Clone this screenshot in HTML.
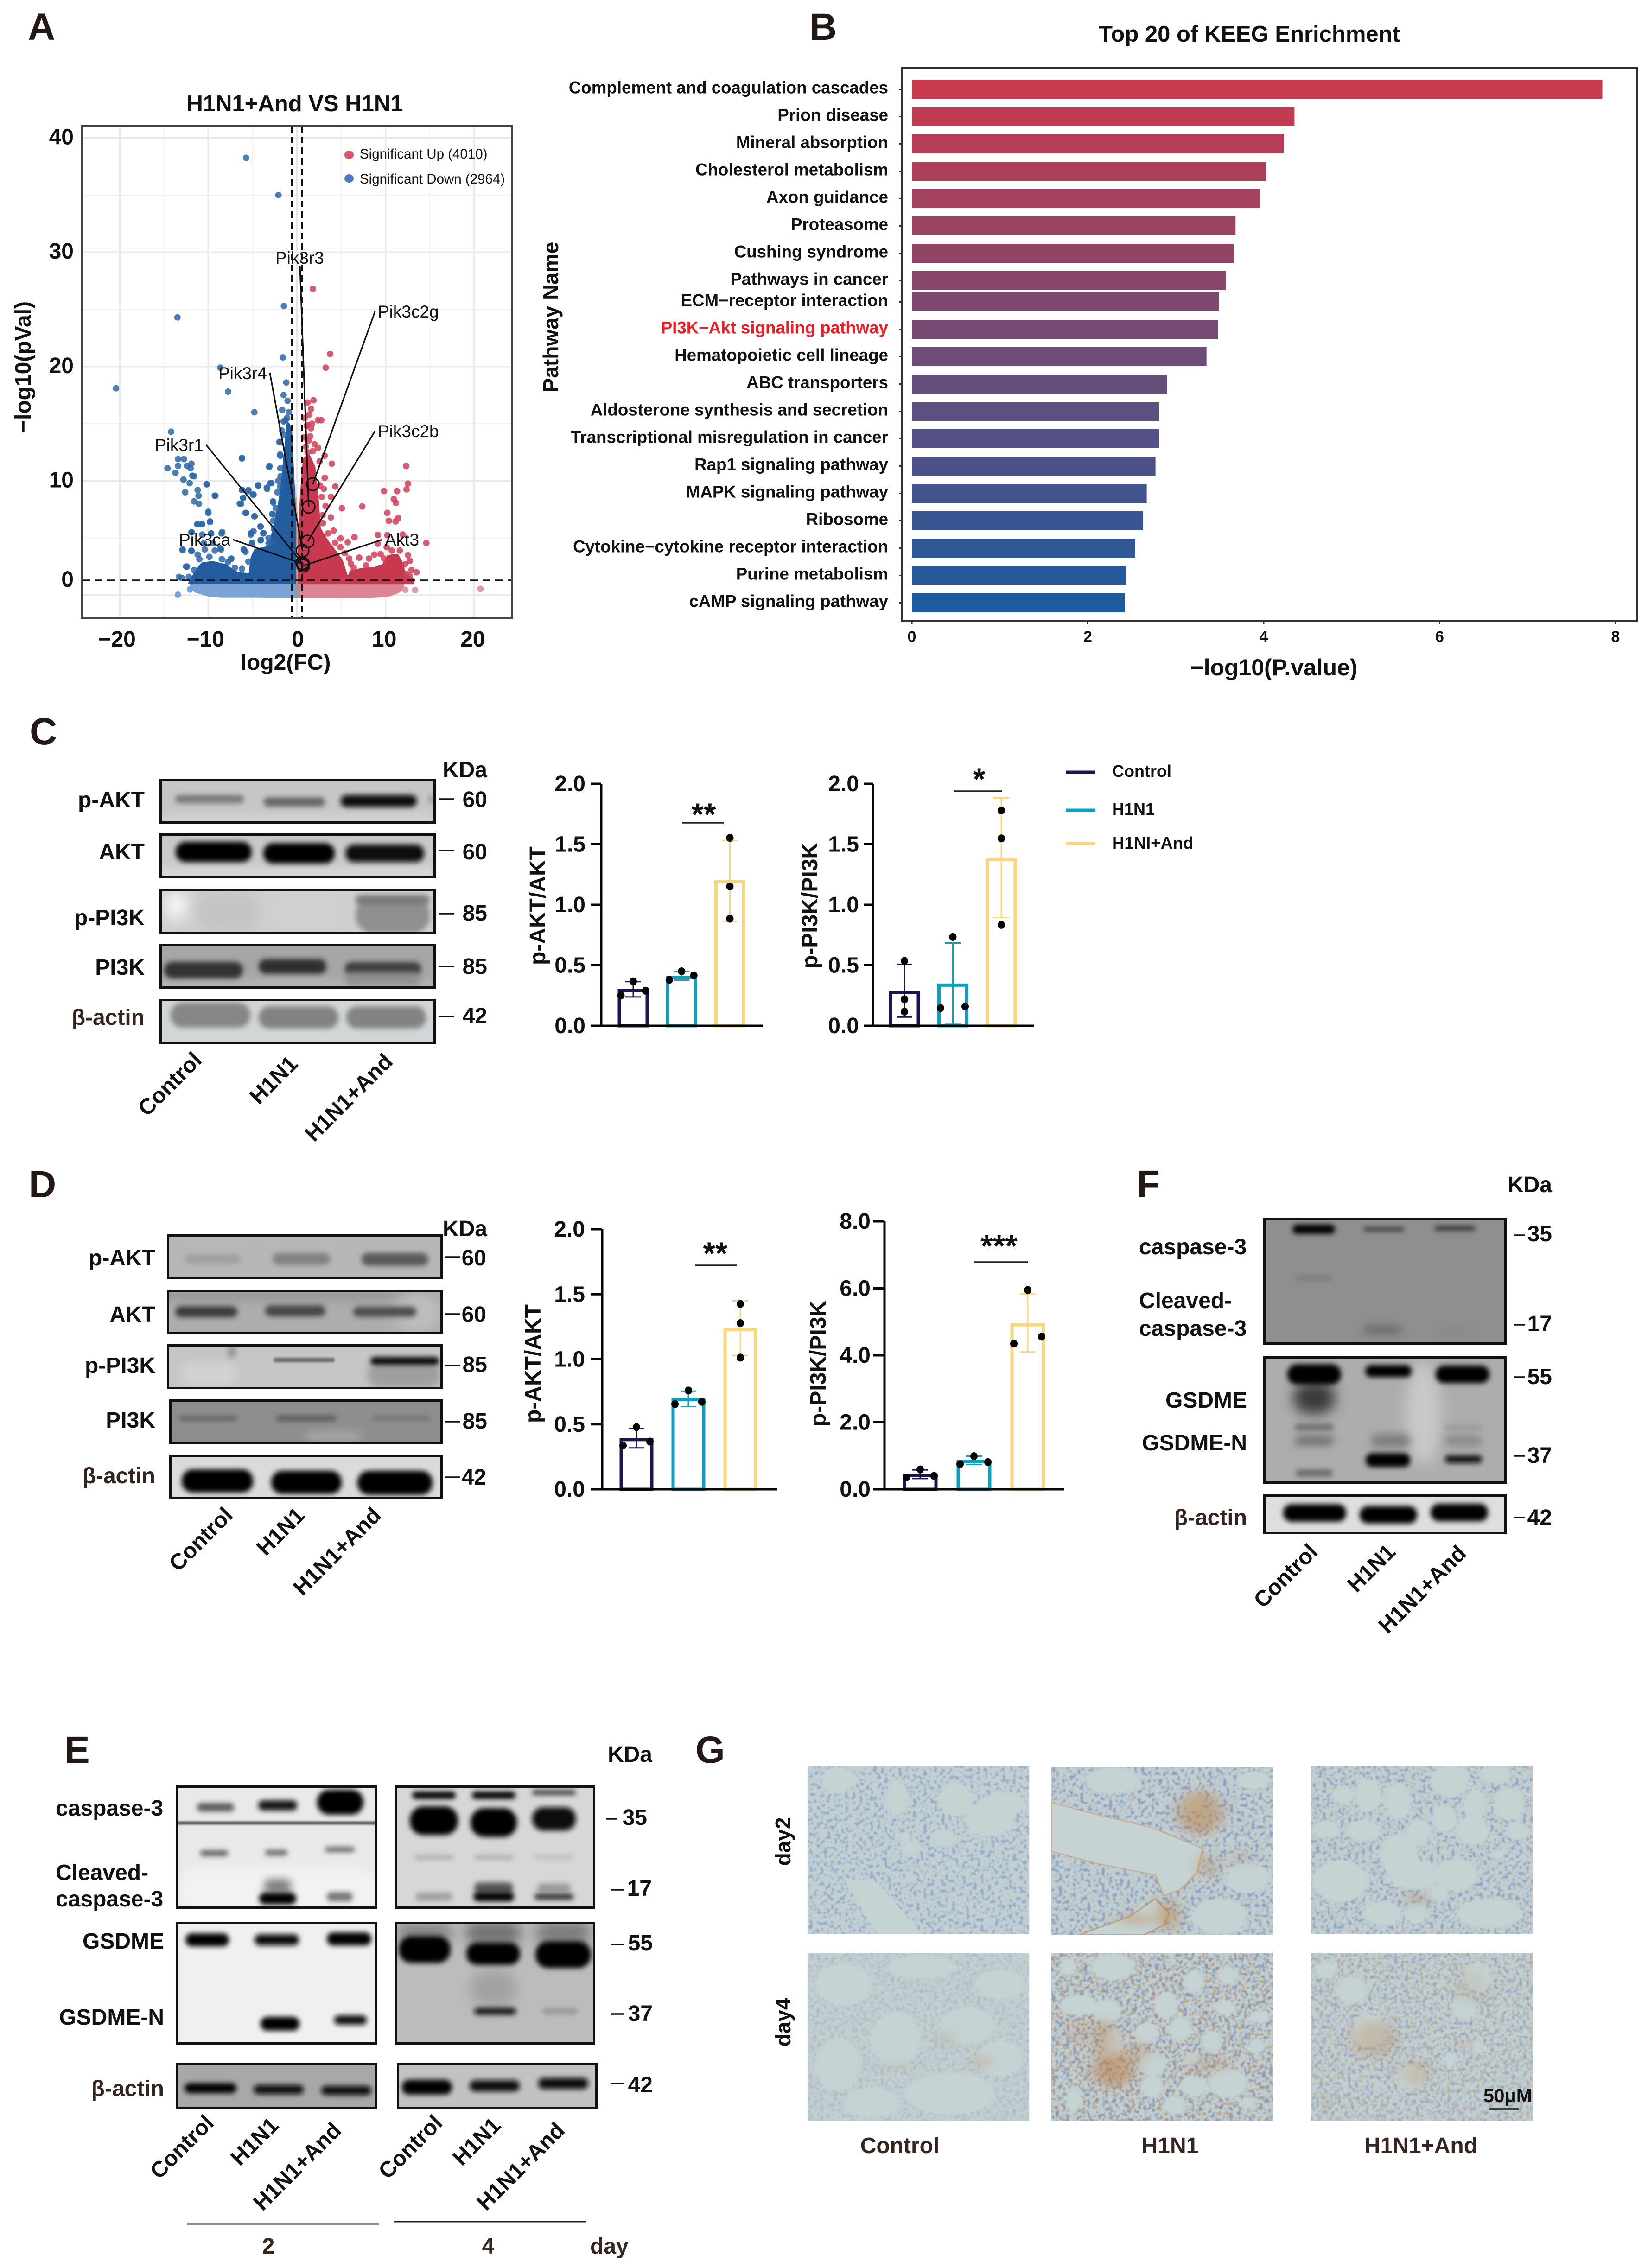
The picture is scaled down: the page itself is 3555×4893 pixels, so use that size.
<!DOCTYPE html>
<html lang="en">
<head>
<meta charset="utf-8">
<title>Multi-panel figure: volcano plot, KEGG enrichment, western blots, bar charts and IHC</title>
<style>
html,body{margin:0;padding:0;background:#fff;}
svg{display:block;}
text{font-family:"Liberation Sans",Arial,sans-serif;fill:#111;}
.b{font-weight:bold;}
.L{font-weight:bold;font-size:82px;fill:#231815;}
.p{font-weight:bold;font-size:48px;}
.a{fill:#35251f;}
.e{text-anchor:end;}
.m{text-anchor:middle;}
</style>
</head>
<body>
<svg id="figure" width="3555" height="4893" viewBox="0 0 3555 4893">
<defs>
<filter id="b2" x="-30%" y="-100%" width="160%" height="300%"><feGaussianBlur stdDeviation="2"/></filter>
<filter id="b3" x="-30%" y="-30%" width="160%" height="160%"><feGaussianBlur stdDeviation="3.5"/></filter>
<filter id="b4" x="-30%" y="-400%" width="160%" height="900%"><feGaussianBlur stdDeviation="5.5"/></filter>
<filter id="b8" x="-40%" y="-300%" width="180%" height="700%"><feGaussianBlur stdDeviation="9"/></filter>
<filter id="b14" x="-80%" y="-200%" width="260%" height="500%"><feGaussianBlur stdDeviation="14"/></filter>
<filter id="nuclei" x="0" y="0" width="100%" height="100%" color-interpolation-filters="sRGB">
<feTurbulence type="fractalNoise" baseFrequency="0.13" numOctaves="2" seed="4" result="n"/>
<feColorMatrix in="n" type="matrix" values="0 0 0 0 .40  0 0 0 0 .52  0 0 0 0 .77  8 0 0 0 -4.3"/>
<feGaussianBlur stdDeviation="1"/>
<feComposite in2="SourceAlpha" operator="in"/>
</filter>
<filter id="brown" x="0" y="0" width="100%" height="100%" color-interpolation-filters="sRGB">
<feTurbulence type="fractalNoise" baseFrequency="0.14" numOctaves="2" seed="9" result="n"/>
<feColorMatrix in="n" type="matrix" values="0 0 0 0 .72  0 0 0 0 .46  0 0 0 0 .22  8 0 0 0 -4.3"/>
<feGaussianBlur stdDeviation="1"/>
<feComposite in2="SourceAlpha" operator="in"/>
</filter>
</defs>

<!-- Panel letters -->
<text class="L" x="60" y="86">A</text>
<text class="L" x="1746" y="86">B</text>
<text class="L" x="64" y="1606">C</text>
<text class="L" x="62" y="2583">D</text>
<text class="L" x="139" y="3803">E</text>
<text class="L" x="2452" y="2582">F</text>
<text class="L" x="1500" y="3803">G</text>

<!-- Panel A static text -->
<g id="volcano"></g>
<text class="b m" x="636" y="240" font-size="49" fill="#222">H1N1+And VS H1N1</text>
<text class="b m" x="616" y="1445" font-size="48">log2(FC)</text>
<text class="b m" transform="translate(66,792) rotate(-90)" font-size="48">−log10(pVal)</text>
<ellipse cx="753" cy="334" rx="10" ry="9" fill="#d9566c"/>
<ellipse cx="753" cy="385" rx="10" ry="9" fill="#4a7db8"/>
<text x="776" y="342" font-size="29.5" fill="#222">Significant Up (4010)</text>
<text x="776" y="396" font-size="29.5" fill="#222">Significant Down (2964)</text>

<!-- Panel B static text -->
<g id="keggChart"></g>
<text class="b m" x="2695" y="90" font-size="49" fill="#222">Top 20 of KEEG Enrichment</text>
<text class="b m" x="2748" y="1457" font-size="50" textLength="361" lengthAdjust="spacingAndGlyphs">−log10(P.value)</text>
<text class="b m" transform="translate(1204,684) rotate(-90)" font-size="46">Pathway Name</text>

<!-- Blots -->
<g id="blots"></g>

<!-- Panel C text -->
<g>
<text class="p e" x="312" y="1742">p-AKT</text>
<text class="p e" x="312" y="1854">AKT</text>
<text class="p e" x="312" y="1996">p-PI3K</text>
<text class="p e" x="312" y="2103">PI3K</text>
<text class="p e a" x="312" y="2211">β-actin</text>
<text class="p e" x="1051" y="1677" font-size="46">KDa</text>
<text class="p e" x="1051" y="1741">60</text>
<text class="p e" x="1051" y="1854">60</text>
<text class="p e" x="1051" y="1986">85</text>
<text class="p e" x="1051" y="2101">85</text>
<text class="p e" x="1051" y="2208">42</text>
<path d="M948 1724H979M948 1835H979M948 1971H979M948 2085H979M948 2193H979" stroke="#111" stroke-width="3.5" fill="none"/>
<text class="p e" transform="translate(438,2290) rotate(-45)">Control</text>
<text class="p e" transform="translate(645,2298) rotate(-45)">H1N1</text>
<text class="p e" transform="translate(850,2293) rotate(-45)">H1N1+And</text>
</g>

<!-- Panel D text -->
<g>
<text class="p e" x="335" y="2730">p-AKT</text>
<text class="p e" x="335" y="2852">AKT</text>
<text class="p e" x="335" y="2962">p-PI3K</text>
<text class="p e" x="335" y="3080">PI3K</text>
<text class="p e a" x="335" y="3200">β-actin</text>
<text class="p e" x="1051" y="2667" font-size="46">KDa</text>
<text class="p e" x="1049" y="2730">60</text>
<text class="p e" x="1049" y="2852">60</text>
<text class="p e" x="1051" y="2960">85</text>
<text class="p e" x="1051" y="3082">85</text>
<text class="p e" x="1049" y="3203">42</text>
<path d="M961 2712H993M961 2835H993M961 2946H993M961 3067H993M961 3187H993" stroke="#111" stroke-width="3.5" fill="none"/>
<text class="p e" transform="translate(505,3272) rotate(-45)">Control</text>
<text class="p e" transform="translate(660,3272) rotate(-45)">H1N1</text>
<text class="p e" transform="translate(825,3272) rotate(-45)">H1N1+And</text>
</g>

<!-- Panel F text -->
<g>
<text class="p" x="2457" y="2706">caspase-3</text>
<text class="p" x="2457" y="2822">Cleaved-</text>
<text class="p" x="2457" y="2882">caspase-3</text>
<text class="p e" x="2690" y="3037">GSDME</text>
<text class="p e" x="2690" y="3129">GSDME-N</text>
<text class="p e a" x="2690" y="3290">β-actin</text>
<text class="p e" x="3348" y="2572" font-size="46">KDa</text>
<text class="p e" x="3348" y="2678">35</text>
<text class="p e" x="3348" y="2872">17</text>
<text class="p e" x="3348" y="2986">55</text>
<text class="p e" x="3348" y="3156">37</text>
<text class="p e" x="3348" y="3290">42</text>
<path d="M3265 2665H3290M3265 2858H3290M3265 2971H3290M3265 3141H3290M3265 3274H3290" stroke="#111" stroke-width="3.5" fill="none"/>
<text class="p e" transform="translate(2845,3351) rotate(-45)">Control</text>
<text class="p e" transform="translate(3013,3351) rotate(-45)">H1N1</text>
<text class="p e" transform="translate(3166,3354) rotate(-45)">H1N1+And</text>
</g>

<!-- Panel E text -->
<g>
<text class="p" x="120" y="3917">caspase-3</text>
<text class="p" x="120" y="4056">Cleaved-</text>
<text class="p" x="120" y="4113">caspase-3</text>
<text class="p e" x="354" y="4204">GSDME</text>
<text class="p e" x="354" y="4368">GSDME-N</text>
<text class="p e a" x="354" y="4522">β-actin</text>
<text class="p e" x="1407" y="3801" font-size="46">KDa</text>
<text class="p e" x="1396" y="3937">35</text>
<text class="p e" x="1406" y="4090">17</text>
<text class="p e" x="1408" y="4208">55</text>
<text class="p e" x="1408" y="4360">37</text>
<text class="p e" x="1408" y="4514">42</text>
<path d="M1307 3924H1331M1318 4077H1345M1318 4195H1345M1318 4345H1345M1318 4495H1345" stroke="#111" stroke-width="3.5" fill="none"/>
<text class="p e" transform="translate(464,4583) rotate(-45)">Control</text>
<text class="p e" transform="translate(604,4588) rotate(-45)">H1N1</text>
<text class="p e" transform="translate(739,4599) rotate(-45)">H1N1+And</text>
<text class="p e" transform="translate(957,4583) rotate(-45)">Control</text>
<text class="p e" transform="translate(1083,4588) rotate(-45)">H1N1</text>
<text class="p e" transform="translate(1221,4599) rotate(-45)">H1N1+And</text>
<path d="M403 4798H818M849 4793H1264" stroke="#222" stroke-width="3" fill="none"/>
<text class="p m a" x="579" y="4862">2</text>
<text class="p m a" x="1053" y="4862">4</text>
<text class="p a" x="1273" y="4862">day</text>
</g>

<!-- Bar charts -->
<g id="barCharts"></g>
<g>
<text class="p m" transform="translate(1176,1954) rotate(-90)">p-AKT/AKT</text>
<text class="p m" transform="translate(1763,1954) rotate(-90)">p-PI3K/PI3K</text>
<text class="p m" transform="translate(1166,2942) rotate(-90)">p-AKT/AKT</text>
<text class="p m" transform="translate(1781,2942) rotate(-90)">p-PI3K/PI3K</text>
<path d="M2299 1666H2363" stroke="#1e1450" stroke-width="7"/>
<path d="M2299 1748H2363" stroke="#0d9fbf" stroke-width="7"/>
<path d="M2299 1820H2363" stroke="#fdd67a" stroke-width="7"/>
<text class="b" x="2399" y="1676" font-size="36">Control</text>
<text class="b" x="2399" y="1758" font-size="36">H1N1</text>
<text class="b" x="2399" y="1831" font-size="36.5">H1NI+And</text>
</g>

<!-- IHC -->
<g id="ihc"></g>
<g>
<text class="b m" transform="translate(1705,3973) rotate(-90)" font-size="46">day2</text>
<text class="b m" transform="translate(1705,4363) rotate(-90)" font-size="46">day4</text>
<text class="p m a" x="1941" y="4645">Control</text>
<text class="p m a" x="2524" y="4645" font-size="46">H1N1</text>
<text class="p m a" x="3065" y="4645">H1N1+And</text>
<text class="b" x="3200" y="4535" font-size="41">50μM</text>
<path d="M3213 4550H3276" stroke="#111" stroke-width="3.5"/>
</g>
</svg>

<script>
/* ------- Volcano data (log2FC, -log10 p) ------- */
const volcanoXTicks = [-20, -10, 0, 10, 20];
const volcanoYTicks = [0, 10, 20, 30, 40];
const volcanoXMinor = [-15, -5, 5, 15];
const volcanoYMinor = [5, 15, 25, 35];
const fcCutoffs = [-0.6, 0.55];
const pCutoff = 1.3;
const denseDownX = [-12.1,-11.5,-10.7,-9.5,-8.1,-6.7,-5.3,-5.07,-4.67,-3.07,-2.27,-1.87,-1.67,-1.27,-1,-0.7,-0.5,-0.3,-0.22,-0.22];
const denseDownY = [1.05,1.9,2.74,2.87,2.6,1.9,1.8,3.28,3.95,4.2,6.9,8.5,9.75,12.9,15,14.5,11,8,6,1.05];
const denseUpX = [0.23,0.23,0.33,0.53,0.83,1.33,1.93,2.33,2.53,3.03,3.73,4.33,5.03,5.53,5.73,6.13,7.33,8.73,9.73,10.3,11.3,11.9,12.1,13.1,13.1];
const denseUpY = [1.05,5,6.4,9.1,11.9,12.2,11.2,8.14,5.85,5.17,4.36,3.8,3,1.8,1.4,2.06,2.27,2.33,2.6,3.4,3.5,2.7,1.8,1.4,1.05];
const lightDownX = [-12.1,-11.5,-10.07,-8.67,-4.67,-0.22];
const lightDownY = [0.58,0.24,-0.1,-0.23,-0.23,-0.27];
const lightUpX = [0.23,8,9.5,10.5,11.5,12,12.1];
const lightUpY = [-0.27,-0.27,-0.2,-0.1,0.2,0.5,0.9];
const nonSigX = [-0.22,0.23,0.23,0.05,-0.15,-0.22];
const nonSigY = [1.05,1.05,5,7.5,9.8,6];
const downPoints = [[-5.73,38.26],[-2.08,35],[-1.47,25.3],[-13.48,24.3],[-1.58,20.8],[-20.4,18.1],[-8.64,19.9],[-7.76,17.8],[-4.8,16],[-1.2,18.6],[-1.5,17.5],[-1.05,17],[-1.66,16.2],[-1.3,15.3],[-14.2,14.3],[-13.4,11.9],[-12.75,11.9],[-14.6,11.1],[-13.7,10.7],[-13.4,11.3],[-12.4,11.3],[-11.9,11.5],[-12,11.1],[-11.8,10.45],[-12.8,10.1],[-12.1,9.8],[-11.6,10.4],[-10.2,9.7],[-11.2,9.2],[-12.6,9],[-11.1,8.7],[-9.2,8.7],[-11.6,8.2],[-11.05,8],[-10,7.3],[-9.8,6.4],[-11.25,6.2],[-10.7,6.2],[-11.9,5.5],[-10.7,5.3],[-9.7,5.4],[-8.5,5.4],[-12.9,4],[-11.9,3.9],[-10.5,4.55],[-9.5,4.55],[-7.4,3.2],[-8.56,4],[-12.5,2.5],[-6.2,12],[-3.1,11.3],[-4.35,9.6],[-5.5,9.1],[-6.2,9.2],[-4.9,8.8],[-6.07,8.5],[-6.45,8],[-5.8,7.2],[-4.8,6.9],[-4.1,6],[-3.8,5.4],[-4.9,5.6],[-5.2,5.3],[-4.1,4.8],[-5.05,4.55],[-6,4],[-5.8,3.8],[-3.4,9.4],[-3,9.8],[-2.7,8.2],[-2.8,7.1],[-3.2,4.55],[-1.9,12.3],[-1.97,13.4],[-1.85,10.4],[-12.9,3.95],[-11.9,3.85],[-12.4,2.5],[-11.2,3.55],[-11,3.15],[-10.4,4],[-9.67,5.4],[-8.43,5.5],[-9.27,3.9],[-8.67,4.1],[-7.47,3.15],[-8.47,3.15],[-9.87,3.35],[-5.97,3.95],[-5.07,4.56],[-4.07,4.83],[-3.77,5.44],[-4.1,6],[-5.17,5.44],[-2.97,4.6],[-5.47,2.94],[-4.77,6.9],[-5.73,7.2],[-2.67,8.1],[-2.7,7.06],[-2.67,6.5],[-6.3,8],[-6.07,8.5],[-4.97,8.8],[-5.47,9.2],[-6.2,9.2],[-4.4,9.6],[-3.37,9.3],[-2.87,9.8],[-3.13,11.2],[-6.2,11.96],[-9.27,8.7],[-10.17,9.7],[-9.99,7.2],[-9.8,6.45],[-11.2,6.2],[-10.7,6.2],[-11.87,5.5],[-1.87,12.2],[-1.87,11.1],[-1.4,14],[-1.1,15.5],[-0.9,16],[-1.5,15.2],[-1.7,14.4],[-1.9,13.4],[-12.2,1.6],[-13,1.5],[-13.3,1.6],[-11.6,2.2],[-7.8,2.9],[-7,2.4],[-6.2,2.3],[-3.2,5],[-2.6,5.8],[-2.4,7.6],[-2.2,9],[-2.1,10],[-1.9,9.5]];
const upPoints = [[1.8,26.8],[3.75,21.1],[3.25,19.9],[1.87,17.05],[1.2,16.85],[1.6,16.3],[2.37,15.3],[2.75,15.3],[1.2,14.9],[1.6,14.6],[1.5,13.9],[2.37,12.9],[3.13,12.2],[2.56,11.7],[3.93,11.5],[12.33,11.3],[12.53,9.76],[12.37,9.25],[9.83,9.1],[11.3,9.1],[10.93,8.4],[11.17,8.07],[7.37,7.76],[5.07,7.6],[10.2,7.2],[11.43,6.75],[10.37,6.5],[11.13,6.45],[3.13,10.26],[4.33,9.5],[3.03,9.3],[3.83,8.6],[3.23,7.8],[3.83,6.8],[4.13,5.64],[2.93,6.3],[4.93,4.97],[5.73,4.63],[6.49,5.07],[9.13,5.28],[10.2,5.25],[11.93,5.3],[14.6,4.56],[5.43,3.68],[7.03,3.28],[6.09,2.74],[8.13,3.2],[8.73,3.55],[9.43,3.6],[9.13,4.5],[10.13,4.2],[12.53,3.5],[12.73,3],[13.49,2],[12.93,2.2],[12.33,1.86],[5.43,1.4],[1,13],[1.3,13.5],[1.1,14.8],[0.9,15.5],[1.4,15.8],[1.7,15],[2,13.2],[1.8,12.6],[1.2,12.5],[0.8,13.8],[2.8,8.6],[2.6,9.6],[2.9,7],[3.5,5.4],[4.3,4.6],[4.9,4.2],[5.9,3.2],[6.4,2.4],[7.8,2.6],[9.8,3.2],[10.7,3.9],[11.6,3.9],[12.2,2.7],[12.7,1.7]];
const lightPoints = [[-13.43,0.04,'d'],[-12.07,0.5,'d'],[20.7,0.55,'u'],[13.33,0.44,'u'],[12.23,0.47,'u']];
const geneNames = ['Pik3c2g','Pik3r3','Pik3c2b','Pik3r4','Pik3r1','Pik3ca','Akt3'];
const geneFC = [1.79,1.33,1.21,0.64,0.6,0.72,0.72];
const geneP = [9.71,7.73,4.7,3.89,2.8,2.72,2.57];

/* ------- KEGG data ------- */
const pathways = ['Complement and coagulation cascades','Prion disease','Mineral absorption','Cholesterol metabolism','Axon guidance','Proteasome','Cushing syndrome','Pathways in cancer','ECM−receptor interaction','PI3K−Akt signaling pathway','Hematopoietic cell lineage','ABC transporters','Aldosterone synthesis and secretion','Transcriptional misregulation in cancer','Rap1 signaling pathway','MAPK signaling pathway','Ribosome','Cytokine−cytokine receptor interaction','Purine metabolism','cAMP signaling pathway'];
const pathwayValues = [7.85,4.35,4.23,4.03,3.96,3.68,3.66,3.57,3.49,3.48,3.35,2.9,2.81,2.81,2.77,2.67,2.63,2.54,2.44,2.42];
const keggTicks = [0,2,4,6,8];
const highlightedPathway = 'PI3K−Akt signaling pathway';

/* ------- Bar chart data ------- */
const groupNames = ['Control','H1N1','H1N1+And'];
const ticks2 = [0,0.5,1,1.5,2];
const tickLabels2 = ['0.0','0.5','1.0','1.5','2.0'];
const ticks8 = [0,2,4,6,8];
const tickLabels8 = ['0.0','2.0','4.0','6.0','8.0'];
const cAktMean = [0.293,0.40,1.19];
const cAktUpper = [0.365,0.45,1.53];
const cAktLower = [0.238,0.377,0.86];
const cAktDots = [[0.25,0.367,0.29],[0.38,0.45,0.416],[1.553,1.152,0.885]];
const cAktSlots = [[-1,0,1],[-1,0,1],[0,0,0]];
const cPi3kMean = [0.277,0.336,1.373];
const cPi3kUpper = [0.508,0.684,1.883];
const cPi3kLower = [0.072,0.012,0.895];
const cPi3kDots = [[0.537,0.219,0.117],[0.734,0.146,0.16],[1.78,1.549,0.834]];
const cPi3kSlots = [[0,0,0],[0,-1,1],[0,0,0]];
const dAktMean = [0.382,0.69,1.227];
const dAktUpper = [0.467,0.755,1.449];
const dAktLower = [0.318,0.636,1.03];
const dAktDots = [[0.478,0.336,0.367],[0.76,0.655,0.673],[1.425,1.278,1.013]];
const dAktSlots = [[0,-1,1],[0,-1,1],[0,0,0]];
const dPi3kMean = [0.42,0.826,4.91];
const dPi3kUpper = [0.58,0.99,5.83];
const dPi3kLower = [0.32,0.74,4.1];
const dPi3kDots = [[0.593,0.353,0.4],[0.99,0.75,0.81],[5.95,4.35,4.555]];
const dPi3kSlots = [[0,-1,1],[0,-1,1],[0,-1,1]];

const root = document.getElementById('figure');
const NS = root.namespaceURI;
function mk(tag, attrs, parent) {
  const n = document.createElementNS(NS, tag);
  for (const k in attrs) n.setAttribute(k, attrs[k]);
  parent.appendChild(n);
  return n;
}

/* ========== Panel A: volcano ========== */
(function () {
  const g = document.getElementById('volcano');
  const sx = v => 640.5 + 19.12 * v;
  const sy = v => 1284 - 24.66 * v;
  const left = 177, right = 1104, top = 272, bottom = 1333;
  let el;
  el = mk('rect', {x: left, y: top, width: right - left, height: bottom - top, fill: '#fff'}, g);
  
  
  volcanoXMinor.forEach(v => {
    const l = mk('line', {x1: sx(v), x2: sx(v), y1: top, y2: bottom, stroke: '#f0f0f0', 'stroke-width': 2}, g);
    
    
  });
  volcanoYMinor.forEach(v => {
    const l = mk('line', {x1: left, x2: right, y1: sy(v), y2: sy(v), stroke: '#f0f0f0', 'stroke-width': 2}, g);
    
    
  });
  volcanoXTicks.forEach(v => {
    const l = mk('line', {x1: sx(v), x2: sx(v), y1: top, y2: bottom, stroke: '#e8e8e8', 'stroke-width': 3.5}, g);
    
    
    const t = mk('text', {x: sx(v) - (v < 0 ? 6 : v > 0 ? 3 : -2), y: 1395, 'font-size': 48, 'font-weight': 'bold', 'text-anchor': 'middle'}, g);
    t.textContent = String(v).replace('-', '−');
    
    
  });
  volcanoYTicks.forEach(v => {
    const l = mk('line', {x1: left, x2: right, y1: sy(v), y2: sy(v), stroke: '#e8e8e8', 'stroke-width': 3.5}, g);
    
    
    const labelAt = v === 0 ? pCutoff : v;
    const t = mk('text', {x: 159, y: sy(labelAt) + 14, 'font-size': 48, 'font-weight': 'bold', 'text-anchor': 'end'}, g);
    t.textContent = String(v);
    
    
  });
  const poly = (xs, ys) => xs.map((x, i) => sx(x) + ',' + sy(ys[i])).join(' ');
  const lightBase = 1.05;
  el = mk('polygon', {points: sx(lightDownX[0]) + ',' + sy(lightBase) + ' ' + poly(lightDownX, lightDownY) + ' ' + sx(-0.22) + ',' + sy(lightBase), fill: '#7ba3d8'}, g);
  
  
  el = mk('polygon', {points: sx(0.23) + ',' + sy(lightBase) + ' ' + poly(lightUpX, lightUpY) + ' ' + sx(12.1) + ',' + sy(lightBase), fill: '#dc8593'}, g);
  
  
  el = mk('rect', {x: sx(-0.22), y: sy(lightBase), width: sx(0.23) - sx(-0.22), height: sy(-0.27) - sy(lightBase), fill: '#98999b'}, g);
  
  
  el = mk('polygon', {points: poly(nonSigX, nonSigY), fill: '#d9ae78'}, g);
  
  
  el = mk('polygon', {points: poly(denseDownX, denseDownY), fill: '#235c9f', stroke: '#235c9f', 'stroke-width': 6, 'stroke-linejoin': 'round'}, g);
  
  
  el = mk('polygon', {points: poly(denseUpX, denseUpY), fill: '#c8394f', stroke: '#c8394f', 'stroke-width': 6, 'stroke-linejoin': 'round'}, g);
  
  
  downPoints.forEach(p => {
    const c = mk('circle', {cx: sx(p[0]), cy: sy(p[1]), r: 7, fill: '#2e66a8', 'fill-opacity': 0.85}, g);
    
    
  });
  upPoints.forEach(p => {
    const c = mk('circle', {cx: sx(p[0]), cy: sy(p[1]), r: 7, fill: '#cf4058', 'fill-opacity': 0.85}, g);
    
    
  });
  lightPoints.forEach(p => {
    const c = mk('circle', {cx: sx(p[0]), cy: sy(p[1]), r: 7, fill: p[2] === 'd' ? '#7ba3d8' : '#e09aa6'}, g);
    
    
  });
  fcCutoffs.forEach(v => {
    const l = mk('line', {x1: sx(v), x2: sx(v), y1: top, y2: bottom, stroke: '#111', 'stroke-width': 4, 'stroke-dasharray': '14 9'}, g);
    
    
  });
  el = mk('line', {x1: left, x2: right, y1: sy(pCutoff), y2: sy(pCutoff), stroke: '#111', 'stroke-width': 3.5, 'stroke-dasharray': '17 10'}, g);
  
  
  const labelX = {Pik3c2g: 815, Pik3r3: 594, Pik3c2b: 815, Pik3r4: 471, Pik3r1: 334, Pik3ca: 386, Akt3: 830};
  const labelY = {Pik3c2g: 685, Pik3r3: 569, Pik3c2b: 943, Pik3r4: 818, Pik3r1: 973, Pik3ca: 1177, Akt3: 1177};
  const leaderX = {Pik3c2g: 809, Pik3r3: 647, Pik3c2b: 809, Pik3r4: 582, Pik3r1: 444, Pik3ca: 502, Akt3: 825};
  const leaderY = {Pik3c2g: 672, Pik3r3: 574, Pik3c2b: 930, Pik3r4: 804, Pik3r1: 959, Pik3ca: 1164, Akt3: 1164};
  geneNames.forEach((n, i) => {
    const gx = sx(geneFC[i]), gy = sy(geneP[i]);
    const l = mk('line', {x1: leaderX[n], y1: leaderY[n], x2: gx, y2: gy, stroke: '#111', 'stroke-width': 3.2}, g);
    
    
    const c = mk('circle', {cx: gx, cy: gy, r: 13.5, fill: 'none', stroke: '#111', 'stroke-width': 2.8}, g);
    
    
    const t = mk('text', {x: labelX[n], y: labelY[n], 'font-size': 37}, g);
    t.textContent = n;
    
    
  });
  el = mk('rect', {x: left, y: top, width: right - left, height: bottom - top, fill: 'none', stroke: '#444', 'stroke-width': 4}, g);
  
  
})();

/* ========== Panel B: KEGG ========== */
(function () {
  const g = document.getElementById('keggChart');
  const sx = v => 1967 + 189.75 * v;
  const rowTop = i => 172 + i * 59 - (i >= 8 ? 13 : 0);
  const barH = 41;
  const mix = i => {
    const f = i / (pathways.length - 1);
    const a = [200, 58, 78], b = [29, 91, 158];
    return 'rgb(' + a.map((c, k) => Math.round(c + (b[k] - c) * f)).join(',') + ')';
  };
  let el;
  el = mk('rect', {x: 1945, y: 146, width: 1587, height: 1193, fill: '#fff', stroke: '#333', 'stroke-width': 4}, g);
  
  
  pathways.forEach((name, i) => {
    const y = rowTop(i);
    const r = mk('rect', {x: sx(0), y: y, width: sx(pathwayValues[i]) - sx(0), height: barH, fill: mix(i)}, g);
    
    
    const tk = mk('line', {x1: 1939, x2: 1945, y1: y + barH / 2, y2: y + barH / 2, stroke: '#333', 'stroke-width': 3}, g);
    
    
    const t = mk('text', {x: 1916, y: y + barH / 2 + 9, 'font-size': 36.7, 'font-weight': 'bold', 'text-anchor': 'end'}, g);
    t.textContent = name;
    if (name === highlightedPathway) t.style.fill = '#ee1c25';
    
    
  });
  keggTicks.forEach(v => {
    const tk = mk('line', {x1: sx(v), x2: sx(v), y1: 1339, y2: 1347, stroke: '#333', 'stroke-width': 3}, g);
    
    
    const t = mk('text', {x: sx(v), y: 1385, 'font-size': 34, 'font-weight': 'bold', 'text-anchor': 'middle'}, g);
    t.textContent = String(v);
    
    
  });
})();

/* ========== Panels C / D bar charts ========== */
const groupColors = ['#1e1450', '#0d9fbf', '#fdd67a'];
function barChart(name, geo, tickVals, tickText, mean, upper, lower, dots, slots) {
  const g = mk('g', {}, document.getElementById('barCharts'));
  
  
  const sy = v => geo.y0 - (geo.y0 - geo.yTop) * v / geo.max;
  const xc = i => geo.first + i * geo.step;
  groupNames.forEach((gn, i) => {
    const c = groupColors[i];
    const b = mk('rect', {x: xc(i) - geo.half, y: sy(mean[i]), width: geo.half * 2, height: geo.y0 - sy(mean[i]), fill: 'none', stroke: c, 'stroke-width': 7}, g);
    
    
    const e = mk('path', {d: 'M' + xc(i) + ' ' + sy(upper[i]) + 'V' + sy(lower[i]) + 'M' + (xc(i) - 17) + ' ' + sy(upper[i]) + 'h34M' + (xc(i) - 17) + ' ' + sy(lower[i]) + 'h34', fill: 'none', stroke: c, 'stroke-width': 3}, g);
    
    
    dots[i].forEach((v, k) => {
      const d = mk('ellipse', {cx: xc(i) + slots[i][k] * geo.jit, cy: sy(v), rx: 8, ry: 8.5, fill: '#050505'}, g);
      
      
    });
  });
  const ax = mk('path', {d: 'M' + geo.axX + ' ' + geo.yTop + 'V' + geo.y0 + 'M' + geo.tickL + ' ' + geo.y0 + 'H' + geo.xEnd, fill: 'none', stroke: '#050505', 'stroke-width': 5}, g);
  
  
  tickVals.forEach((v, i) => {
    const tk = mk('line', {x1: geo.tickL, x2: geo.axX, y1: sy(v), y2: sy(v), stroke: '#050505', 'stroke-width': 5}, g);
    
    
    const t = mk('text', {x: geo.labelR, y: sy(v) + 16, 'font-size': 48, 'font-weight': 'bold', 'text-anchor': 'end'}, g);
    t.textContent = tickText[i];
    
    
  });
  const sig = mk('line', {x1: geo.sigA, x2: geo.sigB, y1: geo.sigY, y2: geo.sigY, stroke: '#222', 'stroke-width': 3.5}, g);
  
  
  const st = mk('text', {x: geo.starX, y: geo.starY, 'font-size': 68, 'font-weight': 'bold', 'text-anchor': 'middle'}, g);
  st.textContent = geo.stars;
  
  
}
barChart('c-p-akt-chart', {axX:1297,y0:2213,yTop:1691,max:2,first:1366,step:104.25,half:30,jit:26.5,tickL:1275,labelR:1263,xEnd:1646,sigA:1472,sigB:1562,sigY:1775,starX:1518,starY:1780,stars:'**'}, ticks2, tickLabels2, cAktMean, cAktUpper, cAktLower, cAktDots, cAktSlots);
barChart('c-p-pi3k-chart', {axX:1883,y0:2213,yTop:1691,max:2,first:1951,step:104.5,half:30,jit:26.5,tickL:1863,labelR:1853,xEnd:2231,sigA:2059,sigB:2161,sigY:1707,starX:2112,starY:1704,stars:'*'}, ticks2, tickLabels2, cPi3kMean, cPi3kUpper, cPi3kLower, cPi3kDots, cPi3kSlots);
barChart('d-p-akt-chart', {axX:1299,y0:3213,yTop:2652,max:2,first:1373,step:112,half:33,jit:29,tickL:1274,labelR:1262,xEnd:1676,sigA:1500,sigB:1589,sigY:2730,starX:1543,starY:2727,stars:'**'}, ticks2, tickLabels2, dAktMean, dAktUpper, dAktLower, dAktDots, dAktSlots);
barChart('d-p-pi3k-chart', {axX:1908,y0:3213,yTop:2635,max:8,first:1985,step:116,half:34,jit:30,tickL:1883,labelR:1878,xEnd:2296,sigA:2101,sigB:2217,sigY:2723,starX:2155,starY:2711,stars:'***'}, ticks8, tickLabels8, dPi3kMean, dPi3kUpper, dPi3kLower, dPi3kDots, dPi3kSlots);

/* ========== Western blots (image imitation, not chart data) ========== */
let clipId = 0;
function blot(name, x, y, w, h, bg, shapes) {
  const host = document.getElementById('blots');
  const id = 'clip' + (clipId++);
  const cp = mk('clipPath', {id: id}, host);
  mk('rect', {x: x, y: y, width: w, height: h}, cp);
  const g = mk('g', {'clip-path': 'url(#' + id + ')'}, host);
  
  
  const r = mk('rect', {x: x, y: y, width: w, height: h, fill: bg}, g);
  
  
  shapes.forEach(s => {
    const b = mk('rect', {x: s[0] - s[2], y: s[1] - s[3], width: s[2] * 2, height: s[3] * 2, rx: s[3] * 0.95, ry: s[3] * 0.95, fill: s[4], filter: 'url(#b' + (s[5] || 4) + ')'}, g);
    
    
  });
  const f = mk('rect', {x: x + 2.5, y: y + 2.5, width: w - 5, height: h - 5, fill: 'none', stroke: '#111', 'stroke-width': 5}, host);
  
  
}
/* Panel C */
blot('c-blot-p-akt',344,1680,596,97,'#c6c6c6',[[640,1770,300,14,'#d2d2d2',8],[452,1724,74,9,'#787878',4],[635,1730,66,10,'#666',4],[817,1728,82,13,'#080808',4],[930,1724,6,10,'#999',4]]);
blot('c-blot-akt',344,1798,596,97,'#c8caca',[[640,1885,300,10,'#dcdcdc',8],[461,1838,82,22,'#050505',4],[645,1841,77,22,'#050505',4],[830,1841,85,19,'#0a0a0a',4]]);
blot('c-blot-p-pi3k',344,1918,596,97,'#cfcfcf',[[490,1966,70,48,'#c4c4c4',14],[379,1953,26,30,'#f4f4f4',14],[660,1966,70,48,'#d0d0d0',8],[847,1975,80,38,'#8f8f8f',4],[847,1942,80,11,'#7c7c7c',4]]);
blot('c-blot-pi3k',344,2036,596,97,'#a6a6a6',[[640,2125,300,10,'#b8b8b8',8],[439,2093,85,18,'#333',4],[631,2085,73,16,'#2f2f2f',4],[826,2090,82,14,'#393939',4],[826,2112,82,14,'#8c8c8c',8]]);
blot('c-blot-beta-actin',344,2155,596,98,'#d3d6d6',[[454,2190,86,27,'#868686',4],[644,2195,86,24,'#828282',4],[833,2195,86,24,'#838383',4]]);
/* Panel D */
blot('d-blot-p-akt',360,2663,595,97,'#b7b7b7',[[459,2716,60,11,'#a0a0a0',4],[650,2716,62,13,'#828282',4],[852,2717,72,14,'#5a5a5a',4]]);
blot('d-blot-akt',360,2782,595,97,'#adadad',[[640,2795,300,12,'#999',8],[900,2830,50,45,'#bdbdbd',14],[445,2830,67,12,'#3d3d3d',4],[637,2828,65,12,'#474747',4],[830,2830,68,11,'#4f4f4f',4]]);
blot('d-blot-p-pi3k',360,2900,595,97,'#c6c6c6',[[873,2965,80,30,'#9f9f9f',8],[450,2965,60,25,'#d2d2d2',8],[656,2934,66,5,'#6f6f6f',2],[873,2936,74,8,'#060606',4],[500,2915,10,15,'#999',4]]);
blot('d-blot-pi3k',365,3019,590,97,'#8e8e8e',[[449,3060,63,5,'#5e5e5e',4],[661,3060,65,6,'#5a5a5a',4],[866,3060,63,4,'#6c6c6c',4],[720,3100,60,12,'#a4a4a4',8]]);
blot('d-blot-beta-actin',365,3138,590,97,'#dbdbdb',[[469,3195,77,25,'#030303',4],[661,3198,76,25,'#030303',4],[852,3199,81,26,'#030303',4]]);
/* Panel F */
blot('f-blot-caspase',2725,2627,525,274,'#8f8f8f',[[2834,2652,46,10,'#050505',4],[2985,2652,44,4,'#333',4],[3138,2650,44,5,'#333',4],[2834,2757,40,5,'#7c7c7c',4],[2982,2869,42,9,'#6a6a6a',8],[3140,2870,35,5,'#858585',8]]);
blot('f-blot-gsdme',2725,2926,525,275,'#adadad',[[3070,3050,38,110,'#c8c8c8',14],[2835,3016,45,34,'#3a3a3a',14],[2835,3079,42,7,'#6c6c6c',4],[2835,3108,42,10,'#6c6c6c',8],[2835,3178,40,8,'#6c6c6c',4],[2835,2965,58,22,'#030303',4],[2995,2958,50,13,'#030303',4],[3155,2965,58,19,'#030303',4],[3000,3108,42,14,'#7c7c7c',8],[2994,3150,48,15,'#050505',4],[3157,3108,40,10,'#858585',8],[3157,3080,40,5,'#969696',4],[3157,3148,40,8,'#090909',4]]);
blot('f-blot-beta-actin',2725,3224,525,86,'#dedede',[[2836,3264,68,19,'#030303',4],[2995,3268,62,19,'#030303',4],[3148,3263,62,19,'#030303',4]]);
/* Panel E */
blot('e-blot-caspase-day2',380,3852,433,266,'#e9e9e9',[[600,4080,220,50,'#f2f2f2',14],[465,3899,40,9,'#5a5a5a',4],[599,3895,42,11,'#141414',4],[734,3888,50,27,'#030303',4],[597,3933,215,3,'#3a3a3a',2],[462,3998,30,6,'#5a5a5a',4],[596,3997,24,6,'#666',4],[733,3990,32,5,'#5a5a5a',4],[599,4069,30,14,'#777',8],[599,4096,40,13,'#030303',4],[733,4092,28,10,'#777',4]]);
blot('e-blot-caspase-day4',851,3852,433,266,'#d7d7d7',[[936,3873,47,8,'#050505',4],[1065,3873,47,8,'#050505',4],[1195,3867,47,5,'#333',4],[936,3928,52,31,'#030303',4],[1065,3932,50,31,'#030303',4],[1195,3924,47,25,'#080808',4],[936,4007,42,4,'#a4a4a4',4],[1065,4007,42,4,'#a4a4a4',4],[1195,4007,42,3,'#b0b0b0',4],[936,4092,40,9,'#a0a0a0',4],[1065,4073,42,12,'#565656',4],[1065,4092,44,10,'#050505',4],[1195,4073,36,10,'#9a9a9a',4],[1195,4092,42,6,'#222',4]]);
blot('e-blot-gsdme-day2',380,4146,433,265,'#f0f0f0',[[447,4185,47,14,'#030303',4],[597,4185,48,12,'#0a0a0a',4],[753,4183,48,14,'#030303',4],[604,4366,42,15,'#030303',4],[756,4358,35,10,'#0a0a0a',4]]);
blot('e-blot-gsdme-day4',851,4146,433,265,'#bcbcbc',[[916,4170,60,20,'#808080',14],[1064,4170,60,24,'#707070',14],[1215,4170,60,24,'#7a7a7a',14],[1064,4290,50,40,'#a2a2a2',14],[916,4206,56,29,'#030303',4],[1064,4215,58,24,'#050505',4],[1215,4217,60,29,'#030303',4],[1068,4339,45,7,'#0e0e0e',4],[1208,4339,38,5,'#8c8c8c',4]]);
blot('e-blot-beta-actin-day2',380,4451,433,99,'#a8a8a8',[[454,4505,56,11,'#050505',4],[601,4508,54,10,'#080808',4],[747,4510,54,10,'#080808',4]]);
blot('e-blot-beta-actin-day4',856,4451,433,99,'#c2c2c2',[[921,4503,54,16,'#050505',4],[1067,4500,54,12,'#080808',4],[1215,4495,54,12,'#080808',4]]);

/* ========== Panel G IHC tiles (image imitation, coordinates in tile zoom space) ========== */
function tile(name, box, tissueOpacity, lumens, polys, stains, brownAll) {
  const host = document.getElementById('ihc');
  const X = z => 1480 + z * 1.2117, Y = z => 3720 + z * 0.6378;
  const x = X(box[0]), y = Y(box[1]), w = X(box[2]) - x, h = Y(box[3]) - y;
  const id = 'clip' + (clipId++);
  const cp = mk('clipPath', {id: id}, host);
  mk('rect', {x: x, y: y, width: w, height: h}, cp);
  const g = mk('g', {'clip-path': 'url(#' + id + ')'}, host);
  
  
  const bg = mk('rect', {x: x, y: y, width: w, height: h, fill: '#c2d0d2'}, g);
  
  
  const nuc = mk('rect', {x: x, y: y, width: w, height: h, fill: '#000', filter: 'url(#nuclei)', opacity: tissueOpacity}, g);
  
  
  if (brownAll) {
    const br = mk('rect', {x: x, y: y, width: w, height: h, fill: '#000', filter: 'url(#brown)', opacity: brownAll}, g);
    
    
  }
  const inner = mk('g', {transform: 'translate(1480,3720) scale(1.2117,0.6378)'}, g);
  lumens.forEach(l => {
    const e = mk('ellipse', {cx: l[0], cy: l[1], rx: l[2], ry: l[3], fill: '#c5d3d3', filter: 'url(#b3)'}, inner);
    
    
  });
  polys.forEach(p => {
    const e = mk('polygon', {points: p[0], fill: '#c5d3d3', stroke: p[1] || 'none', 'stroke-width': p[1] ? 4 : 0, 'stroke-opacity': 0.6}, inner);
    
    
  });
  stains.forEach(s => {
    const e = mk('ellipse', {cx: s[0], cy: s[1], rx: s[2], ry: s[3], fill: '#bd8650', opacity: s[4] * 0.75, filter: 'url(#b14)'}, inner);
    
    
  });
}
tile('ihc-control-day2',[216,140,611,709],0.5,
 [[270,190,30,45],[375,250,20,60],[480,255,32,55],[540,320,45,60],[565,270,40,40],[458,385,22,30],[400,420,18,25],[390,385,12,20]],
 [['280,520 340,535 420,709 340,709']],[],0);
tile('ihc-h1n1-day2',[650,145,1045,712],0.62,
 [[760,190,50,45],[950,650,50,60],[1000,520,40,50],[905,265,14,30],[1010,190,30,30]],
 [['650,265 720,300 830,350 920,420 910,500 880,560 850,580 835,510 730,470 650,430','#c9a070'],['835,590 860,640 850,680 815,712 700,712 790,650','#c08a52']],
 [[915,300,40,75,0.75],[858,645,16,55,0.85],[800,660,35,20,0.5],[930,480,16,45,0.55],[990,450,25,25,0.25]],0.12);
tile('ihc-h1n1-and-day2',[1112,140,1507,709],0.55,
 [[1215,240,25,55],[1268,260,25,60],[1360,190,35,55],[1465,270,28,55],[1405,270,22,50],[1350,320,22,45],[1205,360,32,35],[1305,365,22,45],[1400,360,30,50],[1140,355,25,30],[1270,440,35,70],[1165,530,50,70],[1295,510,45,50],[1370,510,40,55],[1340,570,18,30],[1240,640,35,40],[1300,640,20,35],[1170,240,20,30],[1440,170,30,30],[1430,640,60,50],[1480,360,20,30],[1445,440,12,15]],
 [],[[1300,590,20,20,0.5]],0.15);
tile('ihc-control-day4',[216,773,611,1342],0.22,
 [[373,1065,45,90],[500,1020,50,60],[280,880,50,70],[420,820,60,40],[560,880,45,50],[270,1150,40,90],[470,1250,80,70],[560,1130,40,60],[330,1280,50,50]],
 [],[[373,1160,40,8,0.3],[460,1060,12,28,0.35],[525,1140,15,22,0.45]],0.1);
tile('ihc-h1n1-day4',[650,773,1045,1342],0.65,
 [[760,820,40,45],[700,950,35,35],[750,970,25,40],[855,950,22,45],[905,870,18,40],[965,850,18,30],[760,1085,17,55],[820,1045,22,35],[880,1030,20,40],[935,1075,18,40],[830,1150,25,40],[965,1215,35,50],[905,1225,25,35],[830,1225,20,40],[900,1130,15,20],[1020,990,20,20],[870,1290,20,30],[1015,1090,15,25],[1000,1280,15,20],[690,1270,15,40],[680,820,15,30],[960,960,20,25]],
 [],[[760,1170,36,60,0.8],[745,1060,18,65,0.6],[800,1110,25,35,0.4],[700,1040,20,45,0.3],[930,1150,35,35,0.3]],0.5);
tile('ihc-h1n1-and-day4',[1112,773,1507,1342],0.42,
 [[1410,855,25,50],[1385,960,22,40],[1215,1035,28,55],[1290,1195,25,40],[1185,900,28,45],[1360,1135,12,25],[1410,1090,12,25],[1140,830,20,30]],
 [],[[1225,1065,40,65,0.4],[1300,1180,25,45,0.35],[1390,1082,12,6,0.9],[1140,1280,4,28,0.8],[1400,890,25,65,0.2],[1260,1075,7,10,0.6]],0.3);
</script>
</body>
</html>
